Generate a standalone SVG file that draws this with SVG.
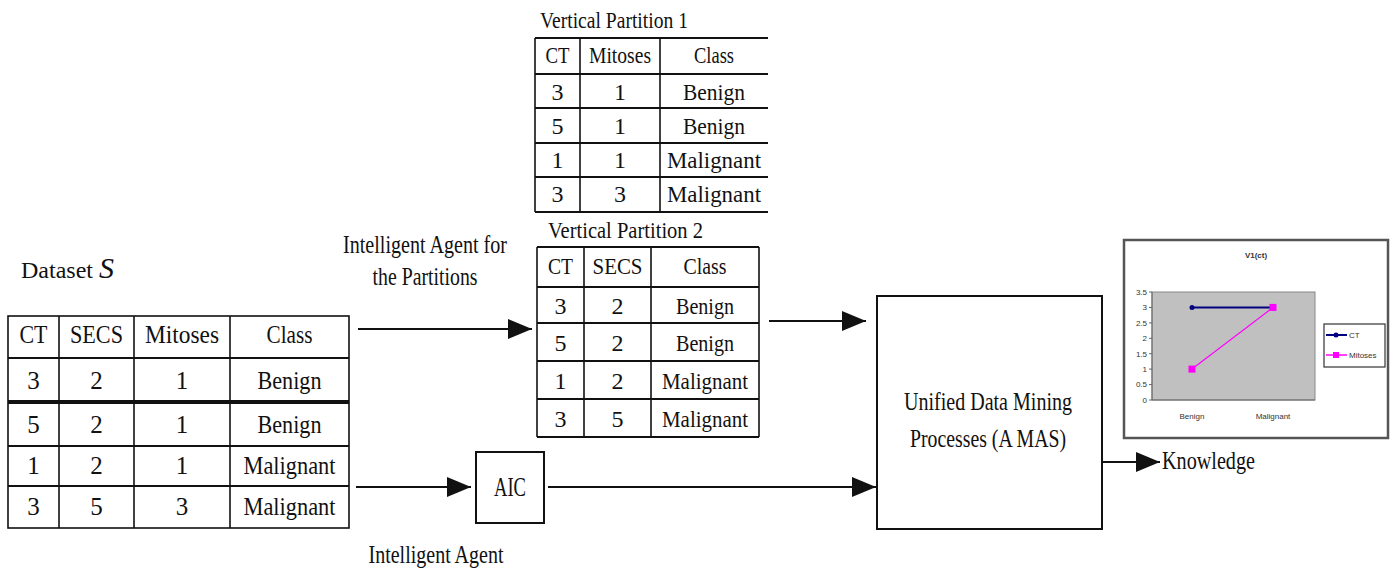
<svg xmlns="http://www.w3.org/2000/svg" width="1395" height="574" viewBox="0 0 1395 574">
<style>
text{font-family:"Liberation Serif","Times New Roman",serif;fill:#111}
.t{font-size:25px;text-anchor:middle}
.tv{font-size:24px;text-anchor:middle}
.lbl{font-size:26px;text-anchor:middle}
.grid{stroke:#111;stroke-width:1.6;fill:none}
.hl{stroke:#111;stroke-width:2.2}
.box{fill:#fff;stroke:#111;stroke-width:2}
.conn{stroke:#111;stroke-width:2;fill:none}
.ax{font-family:"Liberation Sans",Arial,sans-serif;font-size:8px;fill:#333}
</style>
<defs>
<marker id="ah" markerUnits="userSpaceOnUse" markerWidth="24" markerHeight="20" refX="24" refY="10" orient="auto">
<path d="M0,0 L24,10 L0,20 z" fill="#111"/>
</marker>
</defs>
<rect width="1395" height="574" fill="#fff"/>

<g id="dataset">
<text x="21" y="278" font-size="24">Dataset <tspan font-size="30" font-style="italic">S</tspan></text>
<rect class="grid" x="8" y="316" width="341" height="212"/>
<line class="grid" x1="59" y1="316" x2="59" y2="528"/>
<line class="grid" x1="134" y1="316" x2="134" y2="528"/>
<line class="grid" x1="230" y1="316" x2="230" y2="528"/>
<line class="hl" x1="8" y1="358" x2="349" y2="358"/>
<line stroke="#111" stroke-width="4" x1="8" y1="402" x2="349" y2="402"/>
<line class="hl" x1="8" y1="446" x2="349" y2="446"/>
<line class="hl" x1="8" y1="486" x2="349" y2="486"/>
<text class="t" x="33.5" y="343" textLength="28" lengthAdjust="spacingAndGlyphs">CT</text>
<text class="t" x="96.5" y="343" textLength="53" lengthAdjust="spacingAndGlyphs">SECS</text>
<text class="t" x="182" y="343" textLength="74" lengthAdjust="spacingAndGlyphs">Mitoses</text>
<text class="t" x="289.5" y="343" textLength="46" lengthAdjust="spacingAndGlyphs">Class</text>
<text class="t" x="33.5" y="389">3</text><text class="t" x="96.5" y="389">2</text><text class="t" x="182" y="389">1</text>
<text class="t" x="289.5" y="389" textLength="64" lengthAdjust="spacingAndGlyphs">Benign</text>
<text class="t" x="33.5" y="433">5</text><text class="t" x="96.5" y="433">2</text><text class="t" x="182" y="433">1</text>
<text class="t" x="289.5" y="433" textLength="64" lengthAdjust="spacingAndGlyphs">Benign</text>
<text class="t" x="33.5" y="474">1</text><text class="t" x="96.5" y="474">2</text><text class="t" x="182" y="474">1</text>
<text class="t" x="289.5" y="474" textLength="92" lengthAdjust="spacingAndGlyphs">Malignant</text>
<text class="t" x="33.5" y="515">3</text><text class="t" x="96.5" y="515">5</text><text class="t" x="182" y="515">3</text>
<text class="t" x="289.5" y="515" textLength="92" lengthAdjust="spacingAndGlyphs">Malignant</text>
</g>

<g id="vp1">
<text x="540" y="28" font-size="23" textLength="148" lengthAdjust="spacingAndGlyphs">Vertical Partition 1</text>
<line class="hl" x1="535" y1="38" x2="768" y2="38"/>
<line class="grid" x1="535" y1="38" x2="535" y2="212"/>
<line class="grid" x1="580" y1="38" x2="580" y2="212"/>
<line class="grid" x1="660" y1="38" x2="660" y2="212"/>
<line class="hl" x1="535" y1="74" x2="768" y2="74"/>
<line class="hl" x1="535" y1="108" x2="768" y2="108"/>
<line class="hl" x1="535" y1="143" x2="768" y2="143"/>
<line class="hl" x1="535" y1="177" x2="768" y2="177"/>
<line class="hl" x1="535" y1="212" x2="768" y2="212"/>
<text class="tv" x="557.5" y="63" font-size="21" textLength="24" lengthAdjust="spacingAndGlyphs">CT</text>
<text class="tv" x="620" y="63" font-size="21" textLength="62" lengthAdjust="spacingAndGlyphs">Mitoses</text>
<text class="tv" x="714" y="63" font-size="21" textLength="40" lengthAdjust="spacingAndGlyphs">Class</text>
<text class="tv" x="557.5" y="100">3</text><text class="tv" x="620" y="100">1</text>
<text class="tv" x="714" y="100" textLength="62" lengthAdjust="spacingAndGlyphs">Benign</text>
<text class="tv" x="557.5" y="134">5</text><text class="tv" x="620" y="134">1</text>
<text class="tv" x="714" y="134" textLength="62" lengthAdjust="spacingAndGlyphs">Benign</text>
<text class="tv" x="557.5" y="168">1</text><text class="tv" x="620" y="168">1</text>
<text class="tv" x="714" y="168" textLength="94" lengthAdjust="spacingAndGlyphs">Malignant</text>
<text class="tv" x="557.5" y="202">3</text><text class="tv" x="620" y="202">3</text>
<text class="tv" x="714" y="202" textLength="94" lengthAdjust="spacingAndGlyphs">Malignant</text>
</g>

<g id="vp2">
<text x="548" y="238" font-size="23" textLength="155" lengthAdjust="spacingAndGlyphs">Vertical Partition 2</text>
<line class="hl" x1="537" y1="247" x2="759" y2="247"/>
<line class="grid" x1="537" y1="247" x2="537" y2="437"/>
<line class="grid" x1="584" y1="247" x2="584" y2="437"/>
<line class="grid" x1="651" y1="247" x2="651" y2="437"/>
<line class="grid" x1="759" y1="247" x2="759" y2="437"/>
<line class="hl" x1="537" y1="287" x2="759" y2="287"/>
<line class="hl" x1="537" y1="323" x2="759" y2="323"/>
<line class="hl" x1="537" y1="361" x2="759" y2="361"/>
<line class="hl" x1="537" y1="399" x2="759" y2="399"/>
<line class="hl" x1="537" y1="437" x2="759" y2="437"/>
<text class="tv" x="560.5" y="274" font-size="22" textLength="25" lengthAdjust="spacingAndGlyphs">CT</text>
<text class="tv" x="617.5" y="274" font-size="22" textLength="50" lengthAdjust="spacingAndGlyphs">SECS</text>
<text class="tv" x="705" y="274" font-size="22" textLength="43" lengthAdjust="spacingAndGlyphs">Class</text>
<text class="tv" x="560.5" y="314">3</text><text class="tv" x="617.5" y="314">2</text>
<text class="tv" x="705" y="314" textLength="58" lengthAdjust="spacingAndGlyphs">Benign</text>
<text class="tv" x="560.5" y="351">5</text><text class="tv" x="617.5" y="351">2</text>
<text class="tv" x="705" y="351" textLength="58" lengthAdjust="spacingAndGlyphs">Benign</text>
<text class="tv" x="560.5" y="389">1</text><text class="tv" x="617.5" y="389">2</text>
<text class="tv" x="705" y="389" textLength="86" lengthAdjust="spacingAndGlyphs">Malignant</text>
<text class="tv" x="560.5" y="427">3</text><text class="tv" x="617.5" y="427">5</text>
<text class="tv" x="705" y="427" textLength="86" lengthAdjust="spacingAndGlyphs">Malignant</text>
</g>

<g id="partition-agent-label">
<text class="lbl" x="425" y="253" font-size="24" textLength="164" lengthAdjust="spacingAndGlyphs">Intelligent Agent for</text>
<text class="lbl" x="425" y="285" font-size="24" textLength="105" lengthAdjust="spacingAndGlyphs">the Partitions</text>
</g>

<g id="aic">
<rect class="box" x="476" y="452" width="68" height="71"/>
<text x="510" y="496" font-size="28" text-anchor="middle" textLength="32" lengthAdjust="spacingAndGlyphs">AIC</text>
</g>

<g id="aic-label">
<text class="lbl" x="436" y="563" font-size="24" textLength="135" lengthAdjust="spacingAndGlyphs">Intelligent Agent</text>
</g>

<g id="unified">
<rect class="box" x="877" y="296" width="225" height="233"/>
<text class="lbl" x="988" y="410" textLength="168" lengthAdjust="spacingAndGlyphs">Unified Data Mining</text>
<text class="lbl" x="988" y="447" textLength="156" lengthAdjust="spacingAndGlyphs">Processes (A MAS)</text>
</g>

<g id="knowledge">
<text x="1162" y="469" font-size="26" textLength="93" lengthAdjust="spacingAndGlyphs">Knowledge</text>
</g>

<g id="chart">
<rect x="1124" y="240" width="264" height="198" fill="#fff" stroke="#555" stroke-width="2.5"/>
<text class="ax" x="1256" y="258" text-anchor="middle" font-weight="bold">V1(ct)</text>
<rect x="1152" y="292" width="163" height="108" fill="#c0c0c0" stroke="#888" stroke-width="1"/>
<g stroke="#666" stroke-width="1">
<line x1="1152" y1="292" x2="1152" y2="400"/>
<line x1="1152" y1="400" x2="1315" y2="400"/>
<line x1="1149" y1="292" x2="1152" y2="292"/><line x1="1149" y1="307.4" x2="1152" y2="307.4"/>
<line x1="1149" y1="322.9" x2="1152" y2="322.9"/><line x1="1149" y1="338.3" x2="1152" y2="338.3"/>
<line x1="1149" y1="353.7" x2="1152" y2="353.7"/><line x1="1149" y1="369.1" x2="1152" y2="369.1"/>
<line x1="1149" y1="384.6" x2="1152" y2="384.6"/><line x1="1149" y1="400" x2="1152" y2="400"/>
</g>
<g text-anchor="end">
<text class="ax" x="1147" y="295">3.5</text><text class="ax" x="1147" y="310">3</text>
<text class="ax" x="1147" y="326">2.5</text><text class="ax" x="1147" y="341">2</text>
<text class="ax" x="1147" y="357">1.5</text><text class="ax" x="1147" y="372">1</text>
<text class="ax" x="1147" y="387">0.5</text><text class="ax" x="1147" y="403">0</text>
</g>
<text class="ax" x="1192" y="419" text-anchor="middle">Benign</text>
<text class="ax" x="1273" y="419" text-anchor="middle">Malignant</text>
<line x1="1192" y1="307.4" x2="1273" y2="307.4" stroke="#000080" stroke-width="2"/>
<circle cx="1192" cy="307.4" r="2.5" fill="#000080"/>
<line x1="1192" y1="369.1" x2="1273" y2="307.4" stroke="#ff00ff" stroke-width="1.2"/>
<rect x="1188.5" y="365.6" width="7" height="7" fill="#ff00ff"/>
<rect x="1269.5" y="303.9" width="7" height="7" fill="#ff00ff"/>
<rect x="1324" y="324" width="61" height="43" fill="#fff" stroke="#333" stroke-width="1.2"/>
<line x1="1326" y1="335" x2="1347" y2="335" stroke="#000080" stroke-width="2"/>
<circle cx="1336" cy="335" r="2.5" fill="#000080"/>
<text class="ax" x="1349" y="338">CT</text>
<line x1="1326" y1="355" x2="1347" y2="355" stroke="#ff00ff" stroke-width="1.5"/>
<rect x="1333" y="352" width="6" height="6" fill="#ff00ff"/>
<text class="ax" x="1349" y="358" font-size="7">Mitoses</text>
</g>

<g id="connectors">
<line class="conn" x1="358" y1="329" x2="532" y2="329" marker-end="url(#ah)"/>
<line class="conn" x1="356" y1="487" x2="471" y2="487" marker-end="url(#ah)"/>
<line class="conn" x1="548" y1="487" x2="876" y2="487" marker-end="url(#ah)"/>
<line class="conn" x1="769" y1="321" x2="866" y2="321" marker-end="url(#ah)"/>
<line class="conn" x1="1102" y1="462" x2="1160" y2="462" marker-end="url(#ah)"/>
</g>
</svg>
